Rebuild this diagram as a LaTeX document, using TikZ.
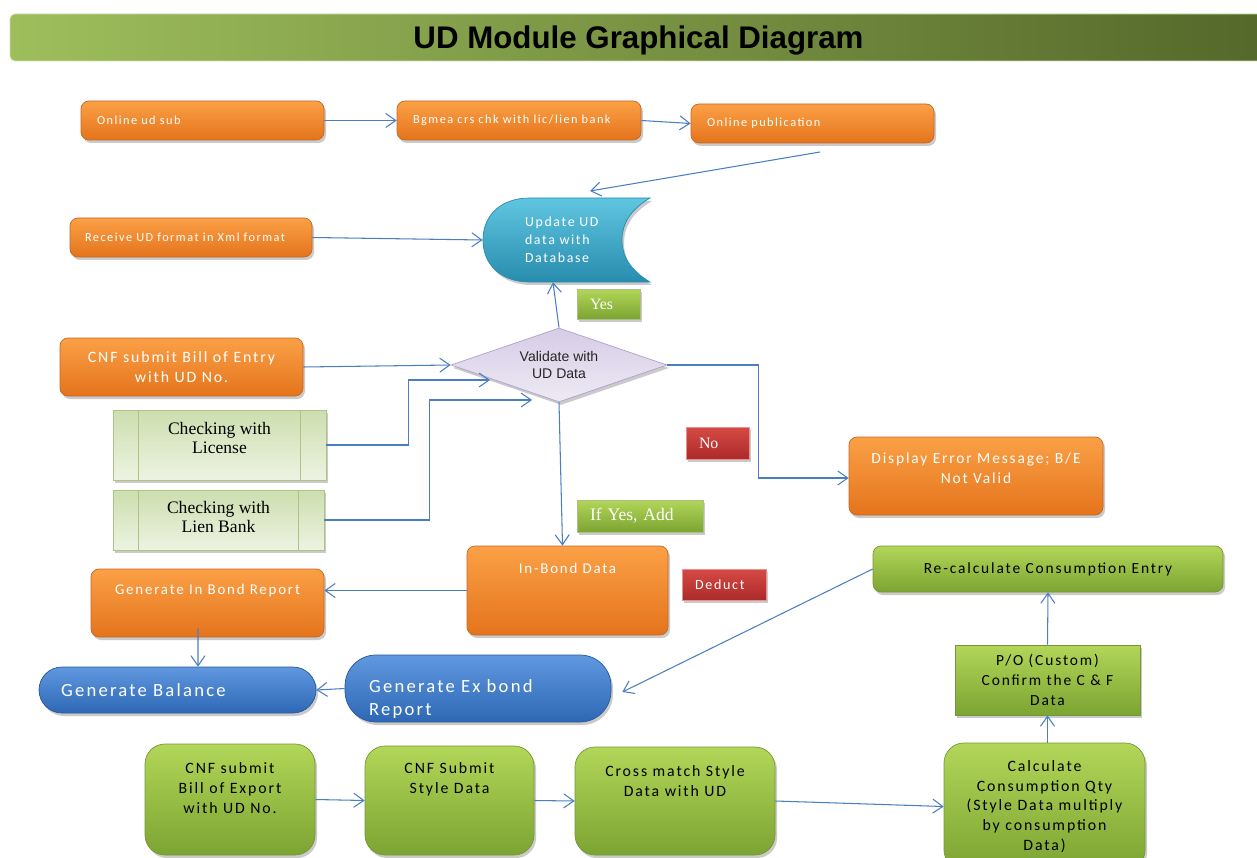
\documentclass[tikz,border=0pt]{standalone}
\usepackage{fontspec}
\setmainfont{Liberation Serif}
\newfontfamily\calib{Carlito}[LetterSpace=12]
\newfontfamily\arial{Liberation Sans}
\usetikzlibrary{arrows.meta,shapes.geometric,shadows}

\definecolor{orgtop}{RGB}{251,160,70}
\definecolor{orgbot}{RGB}{228,116,28}
\definecolor{orgedge}{RGB}{196,104,36}
\definecolor{cyntop}{RGB}{96,198,224}
\definecolor{cynbot}{RGB}{40,140,174}
\definecolor{blutop}{RGB}{96,152,224}
\definecolor{blubot}{RGB}{46,104,180}
\definecolor{grntop}{RGB}{178,214,88}
\definecolor{grnbot}{RGB}{124,164,50}
\definecolor{grnedge}{RGB}{118,150,58}
\definecolor{chktop}{RGB}{238,243,226}
\definecolor{chkbot}{RGB}{204,222,174}
\definecolor{chkedge}{RGB}{172,196,132}
\definecolor{redtop}{RGB}{214,74,68}
\definecolor{redbot}{RGB}{172,42,42}
\definecolor{dmdtop}{RGB}{214,204,230}
\definecolor{dmdbot}{RGB}{238,234,244}
\definecolor{dmdedge}{RGB}{176,160,206}
\definecolor{lineblue}{RGB}{74,126,194}
\definecolor{ttlL}{RGB}{158,190,92}
\definecolor{ttlR}{RGB}{84,104,42}

\tikzset{
  sz/.style 2 args={minimum width=#1*0.02cm, minimum height=#2*0.02cm},
  shd/.style={drop shadow={shadow xshift=0.04cm,shadow yshift=-0.06cm,opacity=0.35,fill=black!60}},
  obox/.style={shd, rounded corners=0.16cm, draw=orgedge, top color=orgtop, bottom color=orgbot, text=white, inner sep=0pt},
  gbox/.style={shd, rounded corners=0.16cm, draw=grnedge, top color=grntop, bottom color=grnbot, text=black, inner sep=0pt},
  bpill/.style={shd, draw=blubot!85!black, top color=blutop, bottom color=blubot, text=white, inner sep=0pt},
  chk/.style={shd, draw=chkedge, top color=chkbot, bottom color=chktop, inner sep=0pt, align=center, font=\fontsize{10}{10.8}\selectfont},
  tagg/.style={shd, draw=grnedge!60, top color=grntop, bottom color=grnbot, text=white, inner sep=0pt, lbox=0.26cm},
  tagr/.style={shd, draw=redtop!60, top color=redtop, bottom color=redbot, text=white, inner sep=0pt, lbox=0.26cm},
  dmd/.style={diamond, aspect=2.9, sz={216}{74}, inner sep=0pt, draw=dmdedge, top color=dmdtop, bottom color=dmdbot, shd, align=center, text=black!85, font=\arial\fontsize{8}{10}\selectfont},
  lbox/.style={inner xsep=#1, align=left},
  toplbl/.style={anchor=north, inner sep=0pt, align=center, yshift=#1},
  ftop/.style={font=\calib\fontsize{7}{9}\selectfont},
  fmid/.style={font=\calib\fontsize{9}{11.3}\selectfont},
  fsml/.style={font=\calib\fontsize{8.8}{11.3}\selectfont},
  fbot/.style={font=\calib\fontsize{9}{11.3}\selectfont},
  fbig/.style={font=\calib\fontsize{10.6}{13}\selectfont},
  ttl/.style={rounded corners=0.1cm, left color=ttlL, right color=ttlR, draw=ttlL!50!white, text height=12.7pt, text depth=0pt, font=\arial\bfseries\fontsize{17.8}{20}\selectfont},
  conn/.style={draw=lineblue, line width=0.6pt, -{Straight Barb[length=0.2cm,width=0.28cm]}}
}

\begin{document}
\begin{tikzpicture}[x=0.02cm,y=-0.02cm]
\useasboundingbox (0,0) rectangle (1257,858);
% title
\node[ttl,sz={1257}{47}] (title) at (638.5,37.5) {UD Module Graphical Diagram};

% upper part
\node[obox,ftop,lbox=0.32cm,sz={243}{39},text width=4.22cm] (onl) at (202.5,120.5) {Online ud sub};
\node[obox,ftop,lbox=0.32cm,sz={244}{39},text width=4.24cm] (bgm) at (519,120.5) {Bgmea crs chk with lic/lien bank};
\node[obox,ftop,lbox=0.32cm,sz={243}{39},text width=4.22cm] (pub) at (812.5,123.5) {Online publication};
\node[obox,ftop,lbox=0.3cm,sz={242}{39},text width=4.24cm] (rcv) at (191,237.5) {Receive UD format in Xml format};

\path[shd, draw=cynbot, top color=cyntop, bottom color=cynbot]
  (650,198) -- (530,198) .. controls (500,198) and (483,216) .. (483,240)
  .. controls (483,264) and (500,282) .. (530,282) -- (650,282)
  .. controls (630,270) and (622,256) .. (622,240)
  .. controls (622,224) and (630,210) .. (650,198) -- cycle;
\node[text=white,inner xsep=0.84cm,text width=1.66cm,minimum height=1.68cm,align=left,font=\calib\fontsize{7.9}{10.2}\selectfont] (upd) at (566.5,240) {Update UD\\data with\\Database};

\node[tagg,sz={63}{30},text width=0.74cm,font=\fontsize{9}{10}\selectfont] (yes) at (608.5,304) {Yes};
\node[dmd] (val) at (559,365) {Validate with\\UD Data};
\node[obox,fmid,align=center,sz={243}{58}] (ent) at (181.5,367) {CNF submit Bill of Entry\\with UD No.};
\node[chk,sz={213}{70},text depth=0.3cm] (lic) at (219.5,445) {Checking with\\License};
\node[chk,sz={211}{60},text depth=0.12cm] (lie) at (218.5,520) {Checking with\\Lien Bank};
\foreach \n in {lic,lie}{
  \draw[chkedge] ([xshift=0.52cm]\n.north west) -- ([xshift=0.52cm]\n.south west);
  \draw[chkedge] ([xshift=-0.52cm]\n.north east) -- ([xshift=-0.52cm]\n.south east);
}
\node[tagr,sz={63}{32},text width=0.74cm,font=\fontsize{9}{10}\selectfont] (no) at (717.5,443) {No};
\node[obox,fsml,align=center,sz={254}{78},text depth=0.3cm] (err) at (976,476) {Display Error Message; B/E\\Not Valid};
\node[tagg,sz={126}{32},text width=2cm,font=\fontsize{10}{12}\selectfont] (ifyes) at (640,516) {If Yes, Add};

% lower part
\node[obox,sz={201}{89},label={[toplbl=-0.35cm,text=white,font=\calib\fontsize{8.5}{10}\selectfont]north:In-Bond Data}] (inb) at (567.5,590.5) {};
\node[tagr,sz={84}{31},text width=1.16cm,font=\calib\fontsize{8}{9}\selectfont] (ded) at (724,584.5) {Deduct};
\node[obox,sz={233}{68},label={[toplbl=-0.31cm,text=white,font=\calib\fontsize{8.5}{10}\selectfont]north:Generate In Bond Report}] (gir) at (207.5,603) {};
\node[bpill,fbig,lbox=0.44cm,rounded corners=0.46cm,sz={277}{46},text width=4.66cm] (bal) at (177.5,690) {Generate Balance};
\node[bpill,fbig,lbox=0.48cm,rounded corners=0.62cm,sz={266}{67},text width=4.36cm,text height=0.68cm] (exb) at (478,688.5) {Generate Ex bond\\Report};
\node[gbox,fsml,sz={350}{46}] (rec) at (1048,569) {Re-calculate Consumption Entry};
\node[gbox,fsml,rounded corners=0pt,align=center,sz={185}{70}] (po) at (1047.5,680) {P/O (Custom)\\Confirm the C \& F\\Data};

\node[gbox,rounded corners=0.4cm,sz={170}{111},label={[toplbl=-0.37cm,fbot]north:{CNF submit\\Bill of Export\\with UD No.}}] (bex) at (230,799.5) {};
\node[gbox,rounded corners=0.4cm,sz={169}{109},label={[toplbl=-0.33cm,fbot]north:{CNF Submit\\Style Data}}] (sty) at (449.5,800.5) {};
\node[gbox,rounded corners=0.4cm,sz={200}{108},label={[toplbl=-0.37cm,fbot]north:{Cross match Style\\Data with UD}}] (crs) at (675,801) {};
\node[gbox,fbot,rounded corners=0.4cm,align=center,sz={201}{127}] (cal) at (1044.5,806.5) {Calculate\\Consumption Qty\\(Style Data multiply\\by consumption\\Data)};

% connectors
\coordinate (pubout) at (820,152);
\coordinate (updin) at (590,191);
\coordinate (licin) at (490,380);
\coordinate (liein) at (532,400);
\draw[conn] (onl.east) -- (bgm.west);
\draw[conn] (bgm.east) -- (pub.west);
\draw[conn] (pubout) -- (updin);
\draw[conn] (rcv.east) -- (upd.west);
\draw[conn] (val.north) -- ([xshift=-0.27cm]upd.south);
\draw[conn] (ent.east) -- (val.west);
\draw[conn] (lic.east) -- ++(82,0) |- (licin);
\draw[conn] (lie.east) -- ++(105,0) |- (liein);
\draw[conn] (val.east) -- ++(91,0) |- ([yshift=-0.04cm]err.west);
\draw[conn] (val.south) -- ([xshift=-0.1cm]inb.north);
\draw[conn] (inb.west) -- (inb.west -| gir.east);
\draw[conn] ([xshift=-0.19cm,yshift=0.18cm]gir.south) -- ([xshift=0.41cm]bal.north);
\draw[conn] (exb.west) -- (bal.east);
\draw[conn] (rec.west) -- ([xshift=0.22cm,yshift=-0.07cm]exb.east);
\draw[conn] (po.north) -- (rec.south);
\draw[conn] (po.south |- cal.north) -- (po.south);
\draw[conn] (bex.east) -- (sty.west);
\draw[conn] (sty.east) -- (crs.west);
\draw[conn] (crs.east) -- (cal.west);
\end{tikzpicture}
\end{document}
